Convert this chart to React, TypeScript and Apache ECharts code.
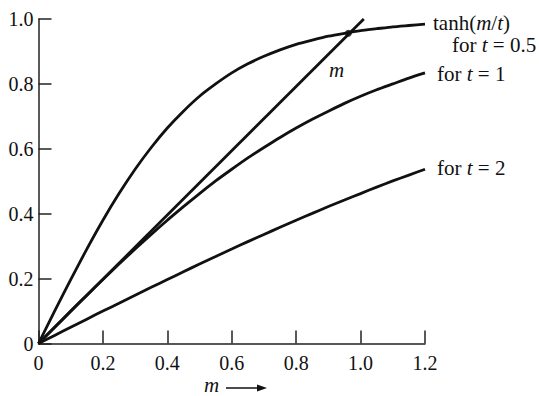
import React, { useEffect, useRef } from "react";
import * as echarts from "echarts";

const M_VALUES = [
  0, 0.05, 0.1, 0.15, 0.2, 0.25, 0.3, 0.35, 0.4, 0.45, 0.5, 0.55, 0.6,
  0.65, 0.7, 0.75, 0.8, 0.85, 0.9, 0.95, 1.0, 1.05, 1.1, 1.15, 1.2,
];
const T05_VALUES = [
  0, 0.1, 0.197, 0.291, 0.38, 0.462, 0.537, 0.604, 0.664, 0.716, 0.762, 0.8, 0.834,
  0.862, 0.885, 0.905, 0.922, 0.935, 0.947, 0.956, 0.964, 0.97, 0.976, 0.98, 0.984,
];
const T1_VALUES = [
  0, 0.05, 0.1, 0.149, 0.197, 0.245, 0.291, 0.336, 0.38, 0.422, 0.462, 0.501, 0.537,
  0.572, 0.604, 0.635, 0.664, 0.691, 0.716, 0.74, 0.762, 0.782, 0.8, 0.818, 0.834,
];
const T2_VALUES = [
  0, 0.025, 0.05, 0.075, 0.1, 0.124, 0.149, 0.173, 0.197, 0.221, 0.245, 0.268, 0.291,
  0.314, 0.336, 0.358, 0.38, 0.401, 0.422, 0.442, 0.462, 0.482, 0.501, 0.519, 0.537,
];
const LINE_M = [
  [0, 0],
  [1.01, 1.0],
];
const CROSS_POINT = [[0.962, 0.956]];
const X_TICKS = { min: 0, max: 1.2, interval: 0.2 };
const Y_TICKS = { min: 0, max: 1.0, interval: 0.2 };

const SERIF = "'Liberation Serif', 'DejaVu Serif', serif";
const INK = "#111";

export default function App() {
  const ref = useRef<HTMLDivElement>(null);
  useEffect(() => {
    if (!ref.current) return;
    const chart = echarts.init(ref.current, null, { renderer: "svg" });
    const fmt = (v: number) => (v === 0 ? "0" : v.toFixed(1));
    const curve = (vals: number[]) => M_VALUES.map((m, i) => [m, vals[i]]);
    const lineStyle = { color: INK, width: 2.8 };
    const rich = {
      r: { fontFamily: SERIF, fontSize: 21, lineHeight: 21, fill: INK, color: INK },
      i: { fontFamily: SERIF, fontSize: 21, lineHeight: 21, fontStyle: "italic", fill: INK, color: INK },
    };
    const txt = (x: number, y: number, text: string) => ({
      type: "text",
      x,
      y,
      style: {
        text,
        rich,
        font: `21px ${SERIF}`,
        fill: INK,
        verticalAlign: "middle",
        align: "left",
      },
    });
    const curveSeries = (name: string, vals: number[]) => ({
      name,
      type: "line",
      data: curve(vals),
      smooth: 0.2,
      showSymbol: false,
      lineStyle,
    });
    chart.setOption({
      animation: false,
      backgroundColor: "#fff",
      grid: {
        left: 38.5,
        right: 114,
        top: 19,
        bottom: 52.5,
        containLabel: false,
        outerBoundsMode: "none",
      },
      xAxis: {
        type: "value",
        ...X_TICKS,
        axisLine: { show: true, onZero: false, lineStyle: { color: "#222", width: 1.5 } },
        axisTick: { show: true, inside: true, length: 13, lineStyle: { color: "#222", width: 1.5 } },
        splitLine: { show: false },
        axisLabel: {
          formatter: fmt,
          fontFamily: SERIF,
          fontSize: 20,
          color: INK,
          margin: 9,
        },
      },
      yAxis: {
        type: "value",
        ...Y_TICKS,
        axisLine: { show: true, onZero: false, lineStyle: { color: "#222", width: 1.5 } },
        axisTick: { show: true, inside: true, length: 13, lineStyle: { color: "#222", width: 1.5 } },
        splitLine: { show: false },
        axisLabel: {
          formatter: fmt,
          fontFamily: SERIF,
          fontSize: 20,
          color: INK,
          margin: 5,
        },
      },
      series: [
        curveSeries("t=0.5", T05_VALUES),
        curveSeries("t=1", T1_VALUES),
        curveSeries("t=2", T2_VALUES),
        {
          name: "m",
          type: "line",
          data: LINE_M,
          showSymbol: false,
          clip: false,
          lineStyle,
        },
        {
          name: "cross",
          type: "scatter",
          data: CROSS_POINT,
          symbolSize: 7,
          itemStyle: { color: INK },
        },
      ],
      graphic: [
        txt(433, 23, "{r|tanh(}{i|m}{r|/}{i|t}{r|)}"),
        txt(452, 45, "{r|for }{i|t}{r| = 0.5}"),
        txt(437, 74, "{r|for }{i|t}{r| = 1}"),
        txt(437, 168, "{r|for }{i|t}{r| = 2}"),
        txt(329, 70, "{i|m}"),
        txt(204, 385, "{i|m}"),
        {
          type: "line",
          shape: { x1: 226, y1: 388, x2: 260, y2: 388 },
          style: { stroke: INK, lineWidth: 1.5 },
        },
        {
          type: "polygon",
          shape: { points: [[267, 388], [257, 384.5], [257, 391.5]] },
          style: { fill: INK },
        },
      ],
    });
    return () => chart.dispose();
  }, []);
  return (
    <div
      ref={ref}
      style={{ position: "fixed", left: 0, top: 0, width: 539, height: 396, background: "#fff" }}
    />
  );
}
